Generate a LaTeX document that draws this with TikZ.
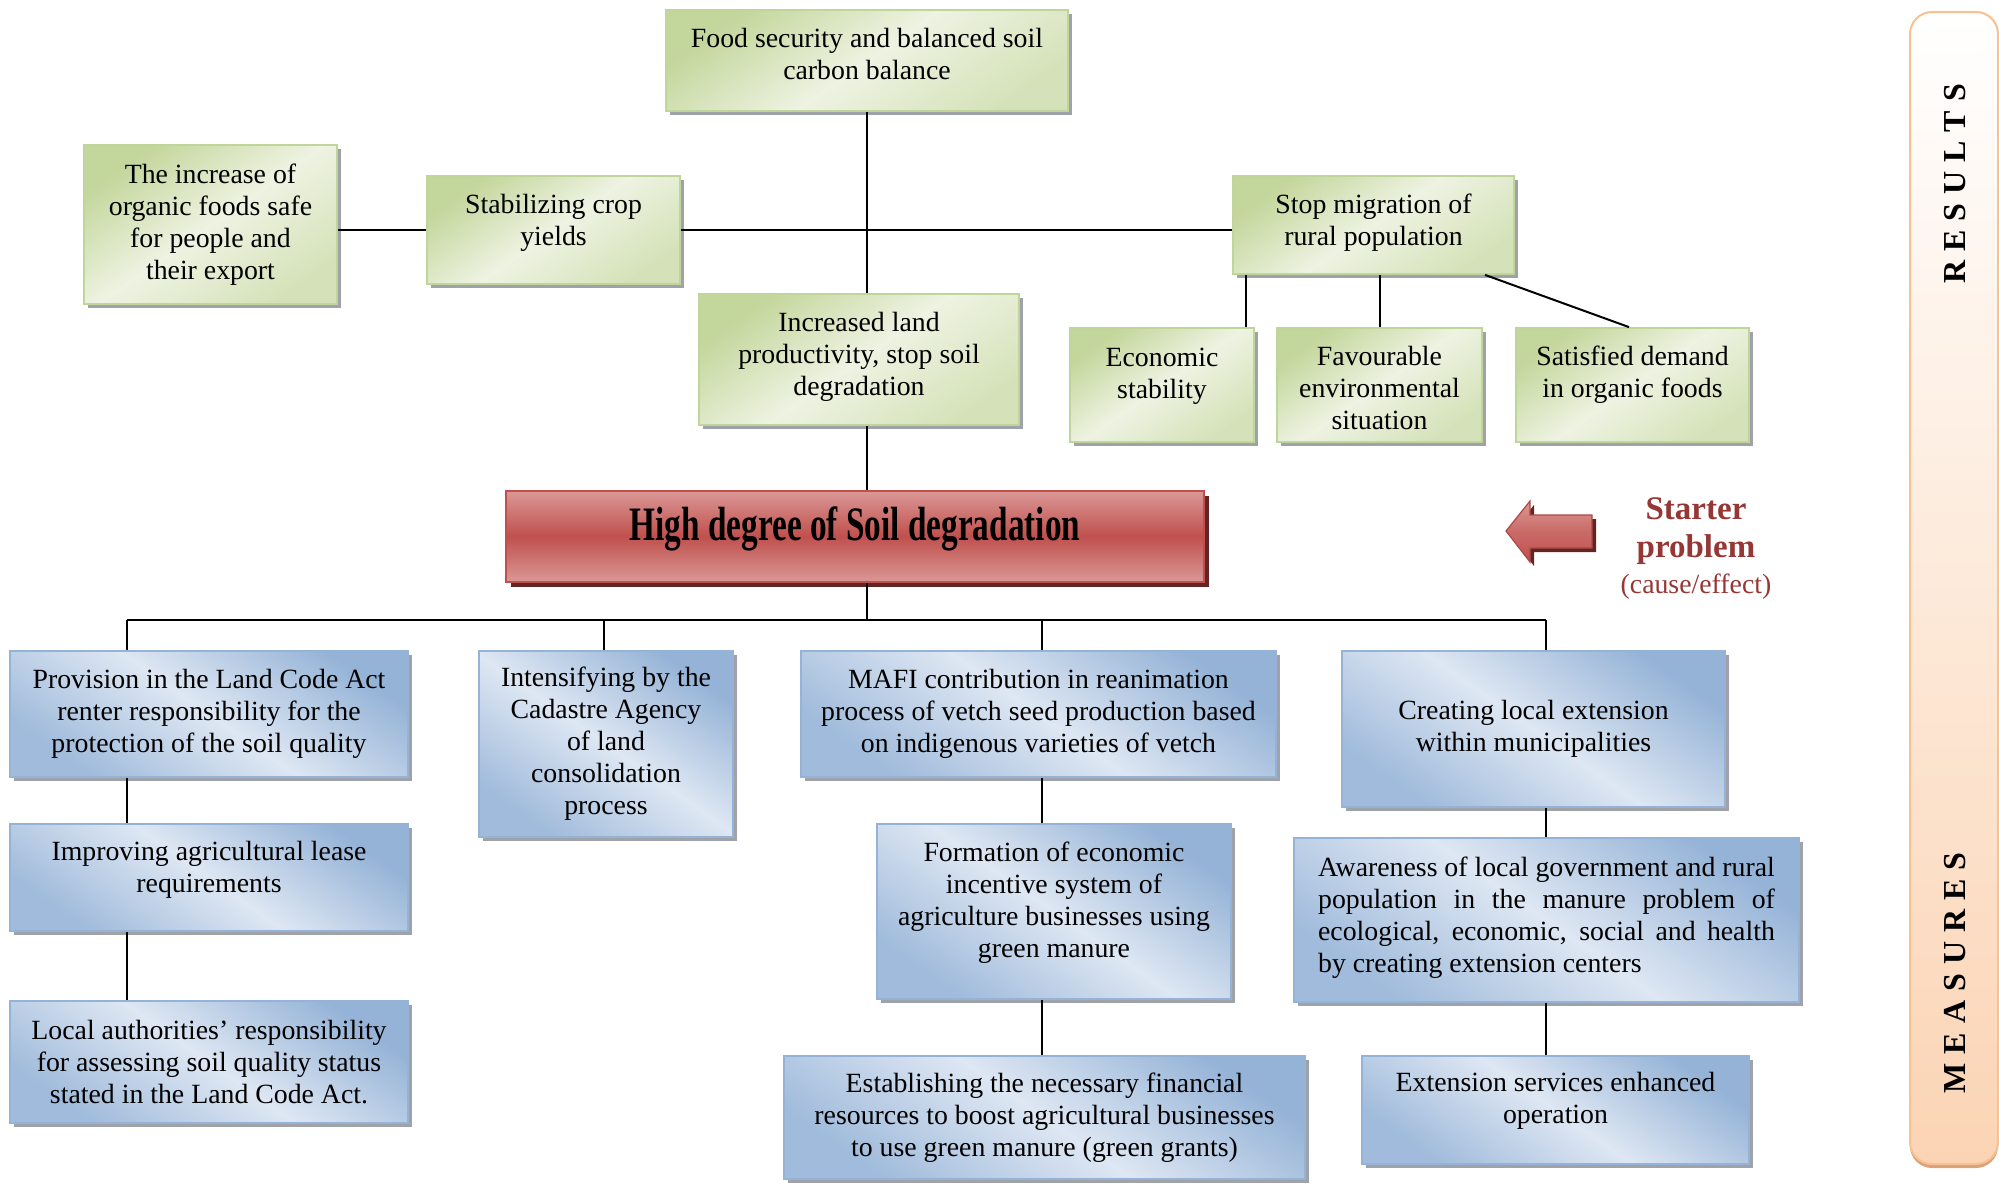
\documentclass[tikz,border=0pt]{standalone}
\usepackage{fontspec}
\setmainfont{Liberation Serif}
\usepackage{graphicx}
\usetikzlibrary{shadows,calc}

\definecolor{grnDark}{HTML}{C3D69B}
\definecolor{grnMid}{HTML}{EEF3E2}
\definecolor{grnEdge}{HTML}{C0D59A}
\definecolor{bluDark}{HTML}{95B3D7}
\definecolor{bluMid}{HTML}{DEE7F3}
\definecolor{bluEdge}{HTML}{95B3D7}
\definecolor{redLight}{HTML}{DA9896}
\definecolor{redDark}{HTML}{C0504D}
\definecolor{redShadow}{HTML}{632523}
\definecolor{starterRed}{HTML}{953735}
\definecolor{peach}{HTML}{FBD4B4}
\definecolor{peachEdge}{HTML}{FAC090}
\definecolor{peachShadow}{HTML}{D9A27A}
\definecolor{boxShadow}{HTML}{8E939A}

\newcommand\bodyfont{\fontsize{13.9}{16}\selectfont}
\newcommand\barletters[1]{\fontsize{16}{18}\selectfont\bfseries #1}
\newsavebox\awarefirst

\begin{document}
\begin{tikzpicture}[x=0.5pt,y=-0.5pt,
  conn/.style={draw=black, line width=1pt},
  txt/.style={align=center, font=\bodyfont, inner sep=0pt},
  basebox/.style={draw, line width=0.9pt, inner sep=0pt,
    drop shadow={shadow xshift=2pt, shadow yshift=-2pt, fill=boxShadow, opacity=0.85}},
  greenbox/.style={basebox, draw=grnEdge, top color=grnDark, bottom color=grnDark!70,
    middle color=grnMid, shading angle=35},
  bluebox/.style={basebox, draw=bluEdge, top color=bluDark, bottom color=bluDark!90,
    middle color=bluMid, shading angle=-35},
  redbox/.style={draw=redDark, line width=0.9pt, top color=redLight, bottom color=redLight,
    middle color=redDark, inner sep=0pt,
    drop shadow={shadow xshift=2.5pt, shadow yshift=-2.5pt, fill=redShadow, opacity=1}},
  sidebar/.style={draw=peachEdge, line width=1pt, rounded corners=11pt,
    top color=white, bottom color=peach,
    drop shadow={shadow xshift=0pt, shadow yshift=-2pt, fill=peachShadow, opacity=1}},
  starterarrow/.style={draw=redDark!90!black, line width=0.6pt, top color=redLight,
    bottom color=redDark, middle color=redDark!85,
    drop shadow={shadow xshift=2pt, shadow yshift=-2pt, fill=redShadow, opacity=1}}
]
\useasboundingbox (0,0) rectangle (1999,1184);

% ---------- side bar ----------
\node[sidebar, minimum width=44pt, minimum height=576pt] (bar) at (1954,588) {};
\node[rotate=90] (results) at (1955,184)
  {\barletters{R\hspace{4.5pt}E\hspace{4.5pt}S\hspace{4.5pt}U\hspace{4.5pt}L\hspace{4.5pt}T\hspace{4.5pt}S}};
\node[rotate=90] (measures) at (1955,973)
  {\barletters{M\hspace{4.5pt}E\hspace{4.5pt}A\hspace{4.5pt}S\hspace{4.5pt}U\hspace{4.5pt}R\hspace{4.5pt}E\hspace{4.5pt}S}};

% ---------- results ----------
\node[greenbox, minimum width=201pt, minimum height=50.5pt,
  label={[txt, yshift=3.2pt]center:{Food security and balanced soil\\carbon balance}}]
  (food) at (867,60.5) {};
\node[greenbox, minimum width=126.5pt, minimum height=79.5pt,
  label={[txt]center:{The increase of\\organic foods safe\\for people and\\their export}}]
  (organic) at (210.5,224.5) {};
\node[greenbox, minimum width=126.5pt, minimum height=54pt,
  label={[txt, yshift=3.8pt]center:{Stabilizing crop\\yields}}]
  (stab) at (553.5,230) {};
\node[greenbox, minimum width=160pt, minimum height=65.5pt,
  label={[txt, yshift=1.3pt]center:{Increased land\\productivity, stop soil\\degradation}}]
  (incr) at (859,359.5) {};
\node[greenbox, minimum width=140.5pt, minimum height=49pt,
  label={[txt, yshift=1.3pt]center:{Stop migration of\\rural population}}]
  (stop) at (1373.5,225) {};
\node[greenbox, minimum width=92pt, minimum height=57pt,
  label={[txt, yshift=4.5pt]center:{Economic\\stability}}]
  (econ) at (1162,385) {};
\node[greenbox, minimum width=102.5pt, minimum height=57pt,
  label={[txt, yshift=-1.5pt]center:{Favourable\\environmental\\situation}}]
  (fav) at (1379.5,385) {};
\node[greenbox, minimum width=116.5pt, minimum height=57pt,
  label={[txt, yshift=5pt]center:{Satisfied demand\\in organic foods}}]
  (sat) at (1632.5,385) {};

% ---------- starter problem ----------
\node[redbox, minimum width=349pt, minimum height=45.5pt,
  label={[inner sep=0pt, yshift=4pt]center:{\scalebox{0.693}[1]{\fontsize{24}{28}\selectfont\bfseries High degree of Soil degradation}}}]
  (soil) at (855,536.5) {};

\path[starterarrow] (1506,531) -- (1530,501) -- (1530,515) -- (1592,515)
  -- (1592,548) -- (1530,548) -- (1530,562) -- cycle;
\node[align=center, text=starterRed, inner sep=0pt,
  font=\fontsize{16.5}{19}\selectfont\bfseries] (starter) at (1696,549)
  {Starter\\problem\\[-1pt]{\bodyfont\mdseries (cause/effect)}};

% ---------- measures ----------
\node[bluebox, minimum width=199pt, minimum height=63pt,
  label={[txt]center:{Provision in the Land Code Act\\renter responsibility for the\\protection of the soil quality}}]
  (prov) at (209,714) {};
\node[bluebox, minimum width=199pt, minimum height=53.5pt,
  label={[txt, yshift=3.8pt]center:{Improving agricultural lease\\requirements}}]
  (impr) at (209,877.5) {};
\node[bluebox, minimum width=199pt, minimum height=61pt,
  label={[txt]center:{Local authorities' responsibility\\for assessing soil quality status\\stated in the Land Code Act.}}]
  (local) at (209,1062) {};
\node[bluebox, minimum width=127pt, minimum height=93pt,
  label={[txt]center:{Intensifying by the\\Cadastre Agency\\of land\\consolidation\\process}}]
  (inten) at (606,744) {};
\node[bluebox, minimum width=237.5pt, minimum height=63pt,
  label={[txt]center:{MAFI contribution in reanimation\\process of vetch seed production based\\on indigenous varieties of vetch}}]
  (mafi) at (1038.5,714) {};
\node[bluebox, minimum width=177pt, minimum height=87.5pt,
  label={[txt, yshift=4.5pt]center:{Formation of economic\\incentive system of\\agriculture businesses using\\green manure}}]
  (form) at (1054,911.5) {};
\node[bluebox, minimum width=260.5pt, minimum height=61.5pt,
  label={[txt]center:{Establishing the necessary financial\\resources to boost agricultural businesses\\to use green manure (green grants)}}]
  (estab) at (1044.5,1117.5) {};
\node[bluebox, minimum width=191.5pt, minimum height=78pt,
  label={[txt]center:{Creating local extension\\within municipalities}}]
  (creat) at (1533.5,729) {};
\node[bluebox, minimum width=252.5pt, minimum height=82pt,
  label={[txt, yshift=1.3pt]center:{\sbox\awarefirst{Awareness of local government and rural}%
   \parbox{\wd\awarefirst}{Awareness of local government and rural\linebreak
   population in the manure problem of\linebreak
   ecological, economic, social and health\linebreak
   by creating extension centers}}}]
  (aware) at (1546.5,920) {};
\node[bluebox, minimum width=193.5pt, minimum height=54pt,
  label={[txt, yshift=4.5pt]center:{Extension services enhanced\\operation}}]
  (ext) at (1555.5,1110) {};

% ---------- connector positions ----------
\coordinate (xEcon) at (1246,0);
\coordinate (xSatA) at (1485,0);
\coordinate (xSatB) at (1629,0);
\coordinate (busY) at (0,620);
\coordinate (xProv) at (127,0);
\coordinate (xInten) at (604,0);
\coordinate (xMafi) at (1042,0);
\coordinate (xCreat) at (1546,0);

% ---------- connectors: results ----------
\draw[conn] (food.south) -- (food.south |- incr.north);
\draw[conn] (food.south |- incr.south) -- (food.south |- soil.north);
\draw[conn] (organic.east |- stab.west) -- (stab.west);
\draw[conn] (stab.east) -- (stop.west |- stab.east);
\draw[conn] (stop.south -| xEcon) -- (econ.north -| xEcon);
\draw[conn] (fav.north) -- (fav.north |- stop.south);
\draw[conn] (stop.south -| xSatA) -- (sat.north -| xSatB);

% ---------- connectors: measures ----------
\draw[conn] (food.south |- soil.south) -- (food.south |- busY);
\draw[conn] (xProv |- busY) -- (xCreat |- busY);
\draw[conn] (xProv |- busY) -- (xProv |- prov.north);
\draw[conn] (xInten |- busY) -- (xInten |- inten.north);
\draw[conn] (xMafi |- busY) -- (xMafi |- mafi.north);
\draw[conn] (xCreat |- busY) -- (xCreat |- creat.north);
\draw[conn] (xProv |- prov.south) -- (xProv |- impr.north);
\draw[conn] (xProv |- impr.south) -- (xProv |- local.north);
\draw[conn] (xMafi |- mafi.south) -- (xMafi |- form.north);
\draw[conn] (xMafi |- form.south) -- (xMafi |- estab.north);
\draw[conn] (xCreat |- creat.south) -- (xCreat |- aware.north);
\draw[conn] (xCreat |- aware.south) -- (xCreat |- ext.north);
\end{tikzpicture}
\end{document}
